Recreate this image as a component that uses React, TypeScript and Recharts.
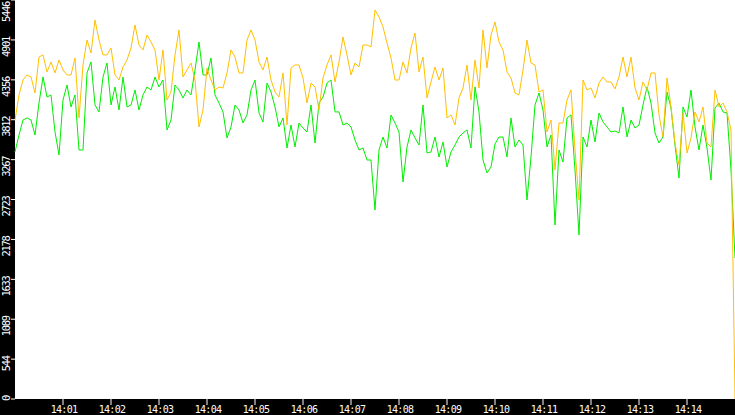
import { LineChart, Line, XAxis, YAxis, CartesianGrid } from "recharts"

// one sample every 5 seconds, starting 14:00:00
const SAMPLE_SECONDS = 5

const orangeSeries = [
  3808, 4150, 4354, 4423, 4395, 4177, 4668, 4696, 4464, 4600,
  4450, 4627, 4491, 4423, 4423, 4655, 3836, 4559, 4900, 4723,
  5173, 4900, 4696, 4696, 4791, 4423, 4354, 4532, 4627, 4791,
  5105, 4832, 4764, 4969, 4873, 4764, 4354, 4764, 4081, 4191,
  4696, 5037, 4395, 4491, 4586, 4354, 3713, 3945, 4518, 4354,
  4218, 4259, 4245, 4450, 4764, 4668, 4450, 4450, 4900, 5037,
  4900, 4600, 4491, 4668, 4354, 4191, 4122, 4450, 3740, 4518,
  4559, 4559, 4382, 4040, 4313, 4259, 3945, 4382, 4559, 4696,
  4327, 4600, 4941, 4696, 4423, 4586, 4532, 4832, 4832, 4805,
  5310, 5214, 5078, 4859, 4655, 4354, 4354, 4600, 4450, 4791,
  4996, 4464, 4668, 4109, 4327, 4532, 4354, 4518, 3836, 3877,
  3740, 4109, 4245, 4559, 4081, 4627, 4245, 5037, 4518, 4969,
  5146, 4873, 4764, 4464, 4382, 4177, 4150, 4491, 4900, 4586,
  4559, 4191, 4218, 3645, 3808, 3126, 3767, 3767, 4081, 4218,
  3399, 2716, 4354, 4218, 4245, 4109, 4313, 4395, 4327, 4327,
  4232, 4395, 4668, 4395, 4668, 4245, 4081, 4327, 4218, 4450,
  4450, 3877, 3576, 4382, 3986, 3494, 3194, 3904, 3358, 3563,
  3918, 3781, 3986, 3494, 3440, 4218, 3986, 4040, 3918, 3672,
  0,
]

const greenSeries = [
  3372, 3604, 3808, 3836, 3808, 3604, 4040, 4395, 4122, 4150,
  3645, 3331, 4081, 4286, 3986, 4150, 3399, 3399, 4450, 4600,
  4013, 3918, 4395, 4586, 4013, 4259, 3945, 4395, 3986, 4013,
  4218, 3945, 4150, 4259, 4218, 4395, 4259, 4354, 3672, 3808,
  4286, 4218, 4109, 4218, 4150, 4491, 4873, 4423, 4423, 4655,
  4150, 4040, 3918, 3563, 3713, 4013, 3945, 3767, 3877, 4218,
  4354, 3904, 3781, 4313, 4191, 3986, 3713, 3836, 3426, 3740,
  3440, 3767, 3699, 3645, 4013, 3494, 4040, 4122, 4313, 4354,
  3918, 3918, 3740, 3767, 3713, 3535, 3399, 3426, 3262, 3262,
  2580, 3399, 3576, 3426, 3877, 3767, 3645, 2962, 3440, 3672,
  3563, 3467, 4013, 3358, 3372, 3576, 3303, 3508, 3167, 3372,
  3467, 3576, 3631, 3672, 3426, 4259, 3918, 3262, 3085, 3167,
  3481, 3576, 3576, 3303, 3836, 3440, 3535, 3467, 2716, 3303,
  4013, 4177, 3945, 3440, 3604, 2375, 3399, 3235, 3836, 3877,
  3126, 2239, 3576, 3440, 3808, 3508, 3904, 3781, 3713, 3645,
  3658, 3631, 3986, 3576, 3808, 3699, 3740, 4013, 4259, 4040,
  3631, 3494, 3576, 4191, 3972, 3467, 3017, 3986, 3849, 4218,
  3713, 3399, 3740, 3426, 2989, 3972, 4040, 3918, 3904, 3126,
  1925,
]

const yTicks = [0, 544, 1089, 1633, 2178, 2723, 3267, 3812, 4356, 4901, 5446]
const tickMinutes = [1, 2, 3, 4, 5, 6, 7, 8, 9, 10, 11, 12, 13, 14]

const data = orangeSeries.map((v, i) => ({
  t: i * SAMPLE_SECONDS,
  orange: v,
  green: greenSeries[i],
}))

const FONT = "'DejaVu Sans Mono', monospace"

function YTick(props: any) {
  const { y, payload } = props
  const top = Math.max(y - 3, 2)
  return (
    <text
      transform={`translate(10, ${top}) rotate(-90)`}
      textAnchor="end"
      fill="#fff"
      fontFamily={FONT}
      fontSize={10.5}
      letterSpacing={-1.3}
    >
      {payload.value}
    </text>
  )
}

function XTick(props: any) {
  const { x, payload } = props
  const m = Math.round(payload.value / 60)
  return (
    <text
      x={x + 1}
      y={413}
      textAnchor="middle"
      fill="#fff"
      fontFamily={FONT}
      fontSize={10}
      letterSpacing={-0.7}
    >
      {`14:${String(m).padStart(2, "0")}`}
    </text>
  )
}

export default function App() {
  return (
    <div style={{ position: "absolute", left: 0, top: 0, width: 735, height: 415, background: "#000" }}>
      <LineChart width={735} height={415} data={data} margin={{ top: 0, right: 0, bottom: 0, left: 0 }}>
        <CartesianGrid fill="#fff" stroke="none" horizontal={false} vertical={false} />
        <XAxis
          type="number"
          dataKey="t"
          domain={[0, 900]}
          ticks={tickMinutes.map((m) => m * 60)}
          height={16}
          axisLine={false}
          tickLine={{ stroke: "#fff" }}
          tickSize={6}
          tick={<XTick />}
          interval={0}
        />
        <YAxis
          type="number"
          domain={[0, 5446]}
          ticks={yTicks}
          width={15}
          axisLine={false}
          tickLine={{ stroke: "#fff" }}
          tickSize={4}
          tick={<YTick />}
          interval={0}
        />
        <Line
          type="linear"
          dataKey="green"
          stroke="#00ee00"
          strokeWidth={1}
          dot={false}
          isAnimationActive={false}
        />
        <Line
          type="linear"
          dataKey="orange"
          stroke="#ffc000"
          strokeWidth={1}
          dot={false}
          isAnimationActive={false}
        />
      </LineChart>
    </div>
  )
}
